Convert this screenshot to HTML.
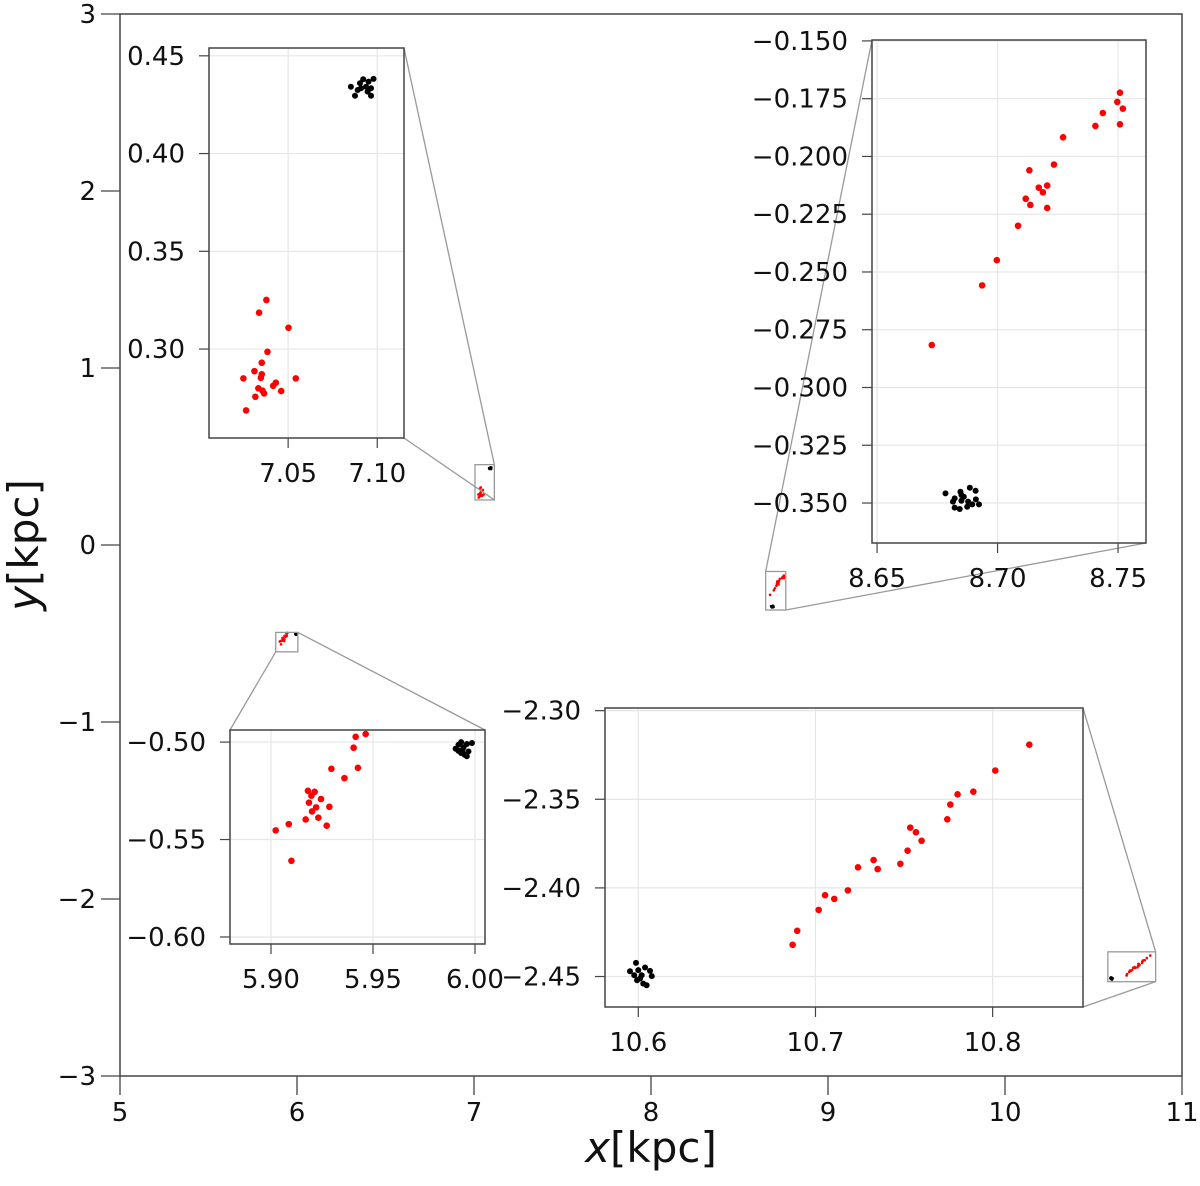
<!DOCTYPE html>
<html><head><meta charset="utf-8"><style>
html,body{margin:0;padding:0;background:#fff;}
svg text{font-family:"DejaVu Sans","Liberation Sans",sans-serif;}
</style></head><body>
<svg id="chart" width="1200" height="1181" viewBox="0 0 1200 1181" xmlns="http://www.w3.org/2000/svg"></svg>
<script>
// ---- data ----
const mainXTicks = [5,6,7,8,9,10,11];
const mainYTicks = [-3,-2,-1,0,1,2,3];

const in1RedX = [7.0378,7.0337,7.0502,7.0384,7.0352,7.0311,7.0352,7.0347,7.0249,7.0543,7.0431,7.0416,7.0333,7.0356,7.0365,7.0461,7.0316,7.0264];
const in1RedY = [0.3251,0.3186,0.3109,0.2986,0.2930,0.2887,0.2871,0.2853,0.2850,0.2850,0.2828,0.2812,0.2799,0.2787,0.2773,0.2785,0.2756,0.2686];
const in1BlkX = [7.0852,7.0875,7.0890,7.0903,7.0921,7.0937,7.0951,7.0979,7.0965,7.0965,7.0946,7.0909];
const in1BlkY = [0.4342,0.4296,0.4325,0.4360,0.4380,0.4342,0.4368,0.4382,0.4334,0.4296,0.4317,0.4334];
const in1XTicks = [7.05,7.10];
const in1YTicks = [0.30,0.35,0.40,0.45];

const in2RedX = [8.7508,8.7497,8.7520,8.7437,8.7406,8.7508,8.7272,8.7234,8.7132,8.7206,8.7171,8.7188,8.7117,8.7136,8.7206,8.7085,8.6997,8.6936,8.6727];
const in2RedY = [-0.1724,-0.1764,-0.1793,-0.1812,-0.1868,-0.1861,-0.1917,-0.2035,-0.2060,-0.2126,-0.2135,-0.2155,-0.2183,-0.2210,-0.2223,-0.2300,-0.2449,-0.2558,-0.2816];
const in2BlkX = [8.6784,8.6822,8.6846,8.6850,8.6885,8.6909,8.6860,8.6878,8.6910,8.6923,8.6895,8.6874,8.6843,8.6822,8.6815,8.6850];
const in2BlkY = [-0.3458,-0.3480,-0.3451,-0.3465,-0.3434,-0.3447,-0.3473,-0.3494,-0.3484,-0.3506,-0.3506,-0.3516,-0.3526,-0.3520,-0.3494,-0.3490];
const in2XTicks = [8.65,8.70,8.75];
const in2YTicks = [-0.150,-0.175,-0.200,-0.225,-0.250,-0.275,-0.300,-0.325,-0.350];

const in3RedX = [5.9464,5.9415,5.9405,5.9296,5.9426,5.9360,5.9181,5.9214,5.9198,5.9245,5.9186,5.9221,5.9286,5.9201,5.9170,5.9232,5.9087,5.9273,5.9023,5.9100];
const in3RedY = [-0.4959,-0.4973,-0.5029,-0.5137,-0.5132,-0.5185,-0.5250,-0.5255,-0.5275,-0.5292,-0.5311,-0.5335,-0.5332,-0.5356,-0.5397,-0.5388,-0.5421,-0.5429,-0.5453,-0.5609];
const in3BlkX = [5.9905,5.9919,5.9932,5.9944,5.9960,5.9985,5.9968,5.9949,5.9932,5.9960,5.9919,5.9938];
const in3BlkY = [-0.5034,-0.5014,-0.5000,-0.5027,-0.5010,-0.5005,-0.5048,-0.5065,-0.5056,-0.5073,-0.5045,-0.5041];
const in3XTicks = [5.90,5.95,6.00];
const in3YTicks = [-0.50,-0.55,-0.60];

const in4RedX = [10.8207,10.8015,10.7891,10.7802,10.7761,10.7744,10.7535,10.7567,10.7599,10.7520,10.7479,10.7328,10.7351,10.7240,10.7183,10.7054,10.7106,10.7018,10.6897,10.6871];
const in4RedY = [-2.3192,-2.3338,-2.3457,-2.3472,-2.3530,-2.3613,-2.3660,-2.3686,-2.3734,-2.3790,-2.3864,-2.3843,-2.3894,-2.3884,-2.4014,-2.4041,-2.4062,-2.4124,-2.4242,-2.4321];
const in4BlkX = [10.5987,10.5953,10.6000,10.6038,10.6066,10.6076,10.6019,10.5993,10.6028,10.6047,10.6010,10.5977];
const in4BlkY = [-2.4423,-2.4470,-2.4464,-2.4449,-2.4468,-2.4498,-2.4493,-2.4521,-2.4540,-2.4549,-2.4511,-2.4493];
const in4XTicks = [10.6,10.7,10.8];
const in4YTicks = [-2.30,-2.35,-2.40,-2.45];

// ---- helpers ----
const NS = "http://www.w3.org/2000/svg";
const svg = document.getElementById('chart');
function mk(tag, attrs, parent, text){
  const e = document.createElementNS(NS, tag);
  for (const k in attrs) e.setAttribute(k, attrs[k]);
  if (text !== undefined) e.textContent = text;
  (parent || svg).appendChild(e);
  return e;
}
function fmt(v, d){ const s = Math.abs(v).toFixed(d); return (v < 0 ? "\u2212" : "") + s; }
function scale(d0, d1, p0, p1){ return v => p0 + (v - d0) / (d1 - d0) * (p1 - p0); }

// main axes
const MX = scale(5, 11, 120, 1182);
const MY = scale(-3, 3, 1076, 14);
const mainG = mk('g', {});


const frame = mk('rect', {x:120, y:14, width:1062, height:1062, fill:'none', stroke:'#444', 'stroke-width':1.5}, mainG);


mainXTicks.forEach(v => {
  const x = MX(v);
  const t = mk('line', {x1:x, x2:x, y1:1076, y2:1095, stroke:'#444', 'stroke-width':1.3}, mainG);
  
  
  const l = mk('text', {x:x, y:1121, 'font-size':26, 'text-anchor':'middle', fill:'#111'}, mainG, String(v));
  
  
});
mainYTicks.forEach(v => {
  const y = MY(v);
  const t = mk('line', {x1:101, x2:120, y1:y, y2:y, stroke:'#444', 'stroke-width':1.3}, mainG);
  
  
  const l = mk('text', {x:96, y:y + 9, 'font-size':26, 'text-anchor':'end', fill:'#111'}, mainG, fmt(v, 0));
  
  
});
const xl = mk('text', {x:651, y:1162, 'font-size':42, 'text-anchor':'middle', fill:'#111'}, mainG);


mk('tspan', {'font-style':'italic'}, xl, 'x');
mk('tspan', {}, xl, '[kpc]');
const yl = mk('text', {x:0, y:0, 'font-size':42, 'text-anchor':'middle', fill:'#111', transform:'translate(38,545) rotate(-90)'}, mainG);


mk('tspan', {'font-style':'italic'}, yl, 'y');
mk('tspan', {}, yl, '[kpc]');

// mini points in main axes
function mainPoints(xs, ys, color, name){
  xs.forEach((v, i) => {
    const c = mk('circle', {cx:MX(v), cy:MY(ys[i]), r:1.3, fill:color}, mainG);
    
    
  });
}

// insets
function inset(cfg){
  const {bx0, bx1, by0, by1, xlim, ylim, xt, yt, xd, yd, rx, ry, kx, ky, name, conns} = cfg;
  const X = scale(xlim[0], xlim[1], bx0, bx1);
  const Y = scale(ylim[0], ylim[1], by1, by0);
  const g = mk('g', {});
  
  
  // source rectangle in main
  const sx0 = MX(xlim[0]), sx1 = MX(xlim[1]), sy0 = MY(ylim[1]), sy1 = MY(ylim[0]);
  const src = mk('rect', {x:sx0, y:sy0, width:sx1 - sx0, height:sy1 - sy0, fill:'none', stroke:'#999', 'stroke-width':1.3}, g);
  
  
  mainPoints(rx, ry, '#f00', name + '-mini-red-point');
  mainPoints(kx, ky, '#000', name + '-mini-black-point');
  const bc = {tl:[bx0,by0], tr:[bx1,by0], bl:[bx0,by1], br:[bx1,by1]};
  const sc = {tl:[sx0,sy0], tr:[sx1,sy0], bl:[sx0,sy1], br:[sx1,sy1]};
  conns.forEach(c => {
    const a = bc[c[0]], b = sc[c[1]];
    const l = mk('line', {x1:a[0], y1:a[1], x2:b[0], y2:b[1], stroke:'#999', 'stroke-width':1.3}, g);
    
    
  });
  mk('rect', {x:bx0, y:by0, width:bx1 - bx0, height:by1 - by0, fill:'#fff'}, g);
  xt.forEach(v => {
    const x = X(v);
    mk('line', {x1:x, x2:x, y1:by0, y2:by1, stroke:'#e6e6e6', 'stroke-width':1.2}, g);
    const t = mk('line', {x1:x, x2:x, y1:by1, y2:by1 + 10, stroke:'#444', 'stroke-width':1.2}, g);
    
    
    const l = mk('text', {x:x, y:by1 + 44, 'font-size':26, 'text-anchor':'middle', fill:'#111'}, g, fmt(v, xd));
    
    
  });
  yt.forEach(v => {
    const y = Y(v);
    mk('line', {x1:bx0, x2:bx1, y1:y, y2:y, stroke:'#e6e6e6', 'stroke-width':1.2}, g);
    const t = mk('line', {x1:bx0 - 10, x2:bx0, y1:y, y2:y, stroke:'#444', 'stroke-width':1.2}, g);
    
    
    const l = mk('text', {x:bx0 - 24, y:y + 9, 'font-size':26, 'text-anchor':'end', fill:'#111'}, g, fmt(v, yd));
    
    
  });
  rx.forEach((v, i) => {
    const c = mk('circle', {cx:X(v), cy:Y(ry[i]), r:3.3, fill:'#f00'}, g);
    
    
  });
  kx.forEach((v, i) => {
    const c = mk('circle', {cx:X(v), cy:Y(ky[i]), r:3.0, fill:'#000'}, g);
    
    
  });
  const fr = mk('rect', {x:bx0, y:by0, width:bx1 - bx0, height:by1 - by0, fill:'none', stroke:'#444', 'stroke-width':1.5}, g);
  
  
}

inset({name:'inset-top-left', bx0:209, bx1:404, by0:48, by1:438, xlim:[7.0056,7.115], ylim:[0.2545,0.454],
  xt:in1XTicks, yt:in1YTicks, xd:2, yd:2, rx:in1RedX, ry:in1RedY, kx:in1BlkX, ky:in1BlkY, conns:[['tr','tr'],['br','br']]});
inset({name:'inset-top-right', bx0:872, bx1:1146, by0:40, by1:543, xlim:[8.6479,8.7616], ylim:[-0.3673,-0.1496],
  xt:in2XTicks, yt:in2YTicks, xd:2, yd:3, rx:in2RedX, ry:in2RedY, kx:in2BlkX, ky:in2BlkY, conns:[['tl','tl'],['br','br']]});
inset({name:'inset-bottom-left', bx0:230, bx1:485, by0:730, by1:944, xlim:[5.8799,6.0049], ylim:[-0.6036,-0.4938],
  xt:in3XTicks, yt:in3YTicks, xd:2, yd:2, rx:in3RedX, ry:in3RedY, kx:in3BlkX, ky:in3BlkY, conns:[['tl','bl'],['tr','tr']]});
inset({name:'inset-bottom-right', bx0:605, bx1:1083, by0:708, by1:1007, xlim:[10.5812,10.851], ylim:[-2.4672,-2.2985],
  xt:in4XTicks, yt:in4YTicks, xd:1, yd:2, rx:in4RedX, ry:in4RedY, kx:in4BlkX, ky:in4BlkY, conns:[['tr','tr'],['br','br']]});
</script>
</body></html>
